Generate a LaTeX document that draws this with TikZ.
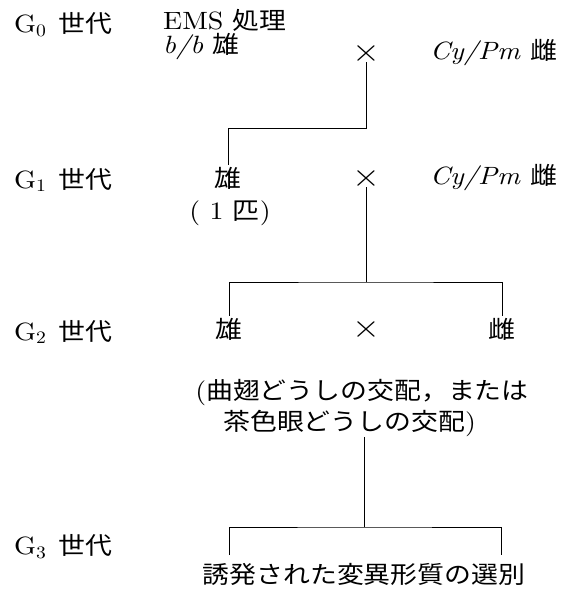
\documentclass[tikz,border=0pt]{standalone}
\usepackage{fontspec}
\setmainfont{lmroman10-regular.otf}[ItalicFont=lmroman10-italic.otf, FakeStretch=1.12]
\newfontfamily\jp{Noto Sans CJK JP}[Scale=0.96, FakeStretch=1.12]

\tikzstyle{txt}=[font=\fontsize{25}{31}\selectfont, inner sep=2pt]
\tikzstyle{gen}=[txt, anchor=west]
\tikzstyle{cross}=[txt, font=\fontsize{32}{32}\selectfont, inner sep=1pt]
\tikzstyle{link}=[line width=1pt]

\begin{document}
\begin{tikzpicture}[x=1pt, y=-1pt]
\useasboundingbox (0,0) rectangle (567,590);

% generations
\node(g0)[gen] at (12,25){G\textsubscript{0}\hspace{0.5em}{\jp 世代}};
\node(g1)[gen] at (12,180){G\textsubscript{1}\hspace{0.5em}{\jp 世代}};
\node(g2)[gen] at (12,332){G\textsubscript{2}\hspace{0.5em}{\jp 世代}};
\node(g3)[gen] at (12,547){G\textsubscript{3}\hspace{0.5em}{\jp 世代}};

% G0
\node(ems)[gen, inner sep=0pt] at (163,20){EMS {\jp 処理}};
\node(m0)[gen, inner sep=0pt] at (163,47){\textit{b/b} {\jp 雄}};
\node(x0)[cross] at (366,53){×};
\node(f0)[gen] at (428,53){\textit{Cy/Pm} {\jp 雌}};

% G1
\node(m1)[txt] at (228,178){\jp 雄};
\node(n1)[txt, inner sep=0pt] at (230,213){(\ 1\ {\jp 匹})};
\node(x1)[cross] at (366,178){×};
\node(f1)[gen] at (428,178){\textit{Cy/Pm} {\jp 雌}};

% G2
\node(m2)[txt] at (229,329){\jp 雄};
\node(x2)[cross] at (366,329){×};
\node(f2)[txt] at (502,329){\jp 雌};
\node(note)[txt, inner sep=0pt, align=left] at (362,408){({\jp 曲翅どうしの交配，または}\\\hspace*{28pt}{\jp 茶色眼どうしの交配})};

% G3
\node(sel)[txt] at (364,574){\jp 誘発された変異形質の選別};

\coordinate(j0) at (366,128);
\coordinate(j1) at (366,282);
\coordinate(j3) at (364,527);
\coordinate(l3) at (229,555);
\coordinate(r3) at (501,555);

\draw[link](x0)--(j0)-|(m1);
\draw[link](x1)--(j1);
\draw[link](m2)|-(j1)-|(f2);
\draw[link](note.south -| j3)--(j3);
\draw[link](l3)|-(j3)-|(r3);

\end{tikzpicture}
\end{document}
